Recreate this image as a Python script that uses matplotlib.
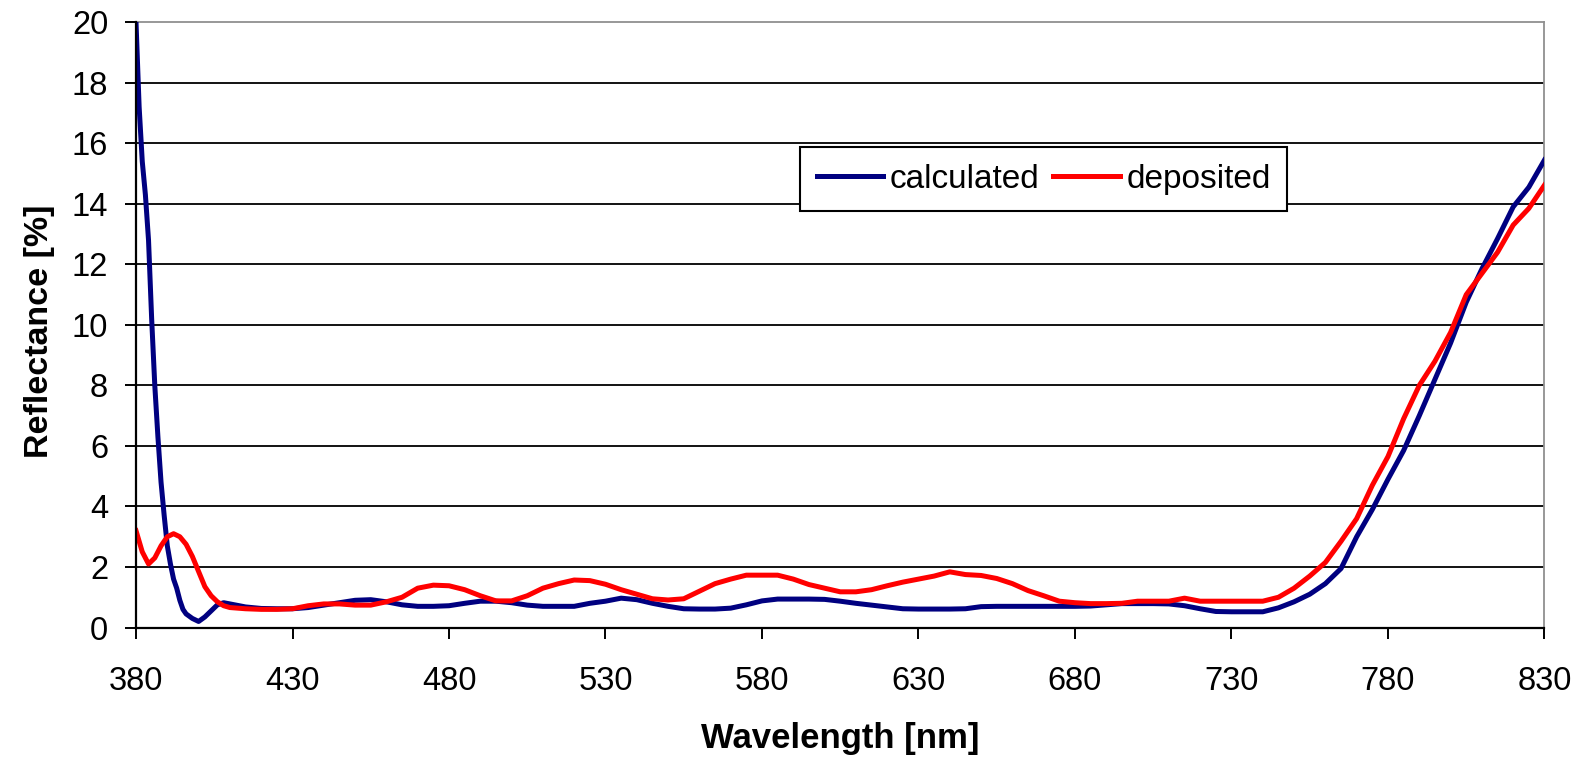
import matplotlib
matplotlib.use('Agg')
import matplotlib.pyplot as plt

plt.rcParams['font.family'] = ['Liberation Sans', 'DejaVu Sans']

# calculated curve (blue)
calc_wl = [380, 381, 382, 383, 384, 385, 386, 387, 388, 389, 390, 391, 392, 393, 394, 395, 396, 398, 400,
           402, 404, 406, 408, 410, 415, 420, 425, 430, 435, 440, 445, 450, 455, 460, 465, 470, 475, 480,
           485, 490, 495, 500, 505, 510, 515, 520, 525, 530, 535, 540, 545, 550, 555, 560, 565, 570, 575,
           580, 585, 590, 595, 600, 605, 610, 615, 620, 625, 630, 635, 640, 645, 650, 655, 660, 665, 670,
           675, 680, 685, 690, 695, 700, 705, 710, 715, 720, 725, 730, 735, 740, 745, 750, 755, 760, 765,
           770, 775, 780, 785, 790, 795, 800, 805, 810, 815, 820, 825, 830]
calc_r = [20.0, 17.2, 15.4, 14.3, 12.8, 10.2, 8.0, 6.3, 4.8, 3.7, 2.7, 2.1, 1.6, 1.3, 0.9, 0.6, 0.45, 0.3, 0.2,
          0.35, 0.55, 0.75, 0.82, 0.78, 0.68, 0.63, 0.62, 0.62, 0.66, 0.74, 0.82, 0.9, 0.92, 0.85, 0.75, 0.7,
          0.7, 0.72, 0.8, 0.87, 0.87, 0.82, 0.74, 0.7, 0.7, 0.7, 0.8, 0.87, 0.97, 0.92, 0.8, 0.7, 0.62, 0.61,
          0.61, 0.64, 0.75, 0.88, 0.94, 0.94, 0.94, 0.93, 0.87, 0.8, 0.74, 0.68, 0.62, 0.61, 0.61, 0.61, 0.62,
          0.69, 0.7, 0.7, 0.7, 0.7, 0.7, 0.7, 0.71, 0.75, 0.79, 0.79, 0.79, 0.78, 0.72, 0.62, 0.53, 0.52,
          0.52, 0.52, 0.65, 0.85, 1.1, 1.45, 1.95, 3.0, 3.9, 4.9, 5.85, 7.0, 8.2, 9.4, 10.75, 11.85, 12.85,
          13.9, 14.55, 15.45]

# deposited curve (red)
dep_wl = [380, 382, 384, 386, 388, 390, 392, 394, 396, 398, 400, 402, 404, 406, 408, 410, 415, 420, 425,
          430, 435, 440, 445, 450, 455, 460, 465, 470, 475, 480, 485, 490, 495, 500, 505, 510, 515, 520,
          525, 530, 535, 540, 545, 550, 555, 560, 565, 570, 575, 580, 585, 590, 595, 600, 605, 610, 615,
          620, 625, 630, 635, 640, 645, 650, 655, 660, 665, 670, 675, 680, 685, 690, 695, 700, 705, 710,
          715, 720, 725, 730, 735, 740, 745, 750, 755, 760, 765, 770, 775, 780, 785, 790, 795, 800, 805,
          810, 815, 820, 825, 830]
dep_r = [3.2, 2.5, 2.1, 2.3, 2.7, 3.0, 3.1, 3.0, 2.75, 2.35, 1.85, 1.35, 1.05, 0.85, 0.72, 0.66, 0.62, 0.6,
         0.6, 0.62, 0.72, 0.78, 0.78, 0.74, 0.74, 0.85, 1.0, 1.3, 1.4, 1.38, 1.25, 1.05, 0.88, 0.88, 1.05,
         1.3, 1.45, 1.57, 1.55, 1.43, 1.25, 1.1, 0.95, 0.91, 0.95, 1.2, 1.45, 1.6, 1.73, 1.73, 1.73, 1.6,
         1.42, 1.3, 1.18, 1.18, 1.25, 1.38, 1.5, 1.6, 1.7, 1.84, 1.75, 1.72, 1.62, 1.45, 1.22, 1.05, 0.87,
         0.82, 0.79, 0.79, 0.8, 0.87, 0.87, 0.87, 0.97, 0.87, 0.87, 0.87, 0.87, 0.87, 1.0, 1.3, 1.7, 2.15,
         2.85, 3.6, 4.7, 5.65, 6.9, 8.0, 8.8, 9.75, 11.0, 11.7, 12.4, 13.3, 13.85, 14.62]

xticks = list(range(380, 831, 50))
yticks = list(range(0, 21, 2))

fig = plt.figure(figsize=(15.76, 7.61), dpi=100)
ax = fig.add_axes([0.0863, 0.1754, 0.8937, 0.7953])

# horizontal grid lines (black) except the frame edges
for yv in yticks[1:-1]:
    ax.axhline(yv, color='black', lw=1.3, zorder=1)

ax.plot(calc_wl, calc_r, color='#000080', lw=3.6, label='calculated', zorder=3)
ax.plot(dep_wl, dep_r, color='#ff0000', lw=3.6, label='deposited', zorder=4)

ax.set_xlim(380, 830)
ax.set_ylim(0, 20)
ax.set_xticks(xticks)
ax.set_yticks(yticks)
ax.tick_params(axis='both', labelsize=23.5, direction='out', length=8, width=1.4, color='black')
ax.tick_params(axis='x', pad=20)
ax.tick_params(axis='y', pad=12)

for side in ['top', 'right']:
    ax.spines[side].set_color('#909090')
    ax.spines[side].set_linewidth(1.3)
for side in ['left', 'bottom']:
    ax.spines[side].set_color('black')
    ax.spines[side].set_linewidth(1.6)
ax.spines['left'].set_zorder(5)

ax.set_xlabel('Wavelength [nm]', fontsize=25, fontweight='bold')
ax.set_ylabel('Reflectance [%]', fontsize=24.5, fontweight='bold')
ax.xaxis.set_label_coords(0.5, -0.156)
ax.yaxis.set_label_coords(-0.0575, 0.49)

leg = ax.legend(loc='upper left', bbox_to_anchor=(0.5076, 0.8068), bbox_transform=fig.transFigure,
                ncol=2, fontsize=24, frameon=True, fancybox=False, shadow=False,
                handlelength=2.0, handletextpad=0.2, columnspacing=0.4, borderpad=0.5,
                borderaxespad=0)
leg.get_frame().set_edgecolor('black')
leg.get_frame().set_linewidth(1.5)
leg.get_frame().set_alpha(1)

fig.savefig('out.png', dpi=100)
